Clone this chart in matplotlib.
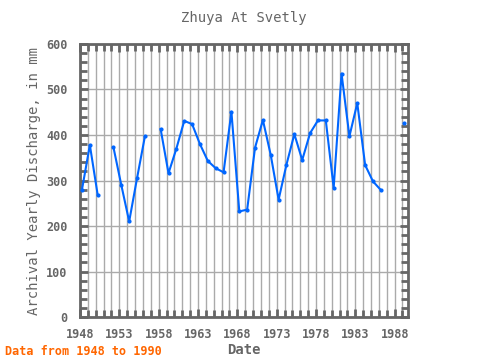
import numpy as np
import matplotlib
matplotlib.use('Agg')
import matplotlib.pyplot as plt
from matplotlib.ticker import MultipleLocator, FixedLocator

# Dados (NaN = ano sem dado)
years = np.arange(1948, 1990)
discharge = [280, 378, 268, np.nan, 373, 290, 210, 305, 397, np.nan,
             413, 316, 370, 431, 424, 380, 343, 327, 318, 451,
             232, 236, 372, 433, 356, 258, 335, 402, 345, 404,
             432, 432, 284, 535, 397, 470, 334, 298, 279, np.nan,
             np.nan, 427]
tick_years = list(range(1948, 1990, 5))

plt.rcParams['font.family'] = ['DejaVu Sans Mono']
gray = '#666666'

fig = plt.figure(figsize=(4.8, 3.6), dpi=100)
ax = fig.add_axes([0.1667, 0.1194, 0.6833, 0.7584])

x = years + 0.25
ax.plot(x, discharge, color='#0066ff', lw=1.5, marker='.', ms=4,
        zorder=5, clip_on=False)

ax.set_xlim(1948, 1989.7)
ax.set_ylim(0, 600)
ax.xaxis.set_major_locator(FixedLocator(tick_years))
ax.xaxis.set_minor_locator(MultipleLocator(1))
ax.yaxis.set_major_locator(MultipleLocator(100))
ax.yaxis.set_minor_locator(MultipleLocator(20))

ax.grid(True, which='both', axis='x', color='#aaaaaa', lw=1)
ax.grid(True, which='major', axis='y', color='#aaaaaa', lw=1)

ax.tick_params(which='both', direction='in', top=True, right=True,
               color=gray, width=2, labelcolor=gray, labelsize=8.5)
ax.tick_params(which='major', length=6)
ax.tick_params(which='minor', length=5)
ax.tick_params(axis='x', pad=8)
ax.tick_params(axis='y', pad=9)
for lab in ax.get_xticklabels() + ax.get_yticklabels():
    lab.set_fontweight('bold')
for s in ax.spines.values():
    s.set_color(gray)
    s.set_linewidth(2)

ax.set_title('Zhuya At Svetly', color=gray, fontsize=10, pad=16)
ax.set_xlabel('Date', color=gray, fontsize=10, fontweight='bold', labelpad=1)
ax.set_ylabel('Archival Yearly Discharge, in mm', color=gray, fontsize=10, labelpad=4)
fig.text(0.01, 0.015, 'Data from 1948 to 1990', color='#ff6600',
         fontsize=8.5, fontweight='bold')

fig.savefig('out.png', dpi=100)
